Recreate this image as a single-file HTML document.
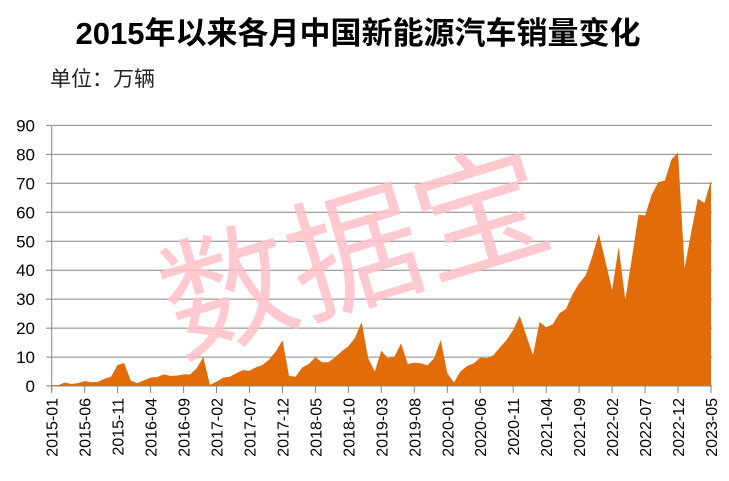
<!DOCTYPE html><html><head><meta charset="utf-8"><style>body{margin:0;background:#fff}svg{display:block}</style></head><body>
<svg id="s" width="729" height="481" xmlns="http://www.w3.org/2000/svg" font-family="Liberation Sans, Noto Sans CJK SC, sans-serif">
<text x="358" y="44" text-anchor="middle" font-size="31" font-weight="bold" fill="#000">2015年以来各月中国新能源汽车销量变化</text>
<text x="50" y="86" font-size="21" fill="#222">单位：万辆</text>
<g id="grid"></g>
<path id="area" fill="#E36C0A"/>
<text x="355" y="300" text-anchor="middle" font-size="132" fill="#FFC0C8" fill-opacity="0.85" transform="rotate(-17 355 255)">数据宝</text>
<g id="axes"></g>
</svg>
<script>
var v=[0.3,0.3,1.2,0.7,1.0,1.7,1.3,1.4,2.5,3.2,7.3,7.9,1.8,1.0,2.0,2.9,3.1,4.0,3.5,3.6,4.0,4.0,6.1,10.0,0.4,1.5,2.9,3.2,4.4,5.5,5.3,6.5,7.3,9.2,12.0,15.8,3.5,3.2,6.4,7.6,9.9,8.2,8.2,10.0,12.0,13.7,16.6,22.1,9.6,5.0,12.2,9.6,10.2,14.8,7.6,8.1,7.8,7.2,9.6,15.9,4.4,1.2,5.0,6.9,7.8,9.8,9.6,10.6,13.4,15.9,19.4,24.2,17.3,10.7,22.1,20.3,21.3,25.1,26.6,31.7,35.5,38.2,44.8,52.6,43.0,33.2,48.0,29.8,44.2,59.2,58.9,66.1,70.4,71.0,78.2,80.7,40.7,53.1,64.7,63.2,71.0];
var x0=51.7,dx=6.593,y0=386,sy=2.895;
var d="M"+x0+","+y0;v.forEach(function(a,i){d+=" L"+(x0+i*dx).toFixed(1)+","+(y0-a*sy).toFixed(1)});d+=" L"+(x0+100*dx).toFixed(1)+","+y0+"Z";
document.getElementById("area").setAttribute("d",d);
var g=document.getElementById("grid"),ax=document.getElementById("axes"),h="";
for(var k=0;k<=9;k++){var y=(y0-k*10*sy).toFixed(1);h+='<line x1="46" x2="712" y1="'+y+'" y2="'+y+'" stroke="#868686" stroke-width="1"/>';h+='<text x="35" y="'+(+y+6)+'" text-anchor="end" font-size="17" fill="#000">'+k*10+'</text>';}
g.innerHTML=h;
var a='<line x1="'+x0+'" x2="'+x0+'" y1="126" y2="392" stroke="#868686"/><line x1="46" x2="712" y1="386" y2="386" stroke="#868686"/>';
for(var i=0;i<=100;i+=5){var x=x0+i*dx,yr=2015+Math.floor(i/12),m=i%12+1;a+='<line x1="'+x.toFixed(1)+'" x2="'+x.toFixed(1)+'" y1="386" y2="393" stroke="#868686"/>';a+='<text transform="translate('+(x+6).toFixed(1)+',398) rotate(-90)" text-anchor="end" font-size="16" fill="#000">'+yr+'-'+(m<10?'0':'')+m+'</text>';}
ax.innerHTML=a;
</script>
</body></html>
